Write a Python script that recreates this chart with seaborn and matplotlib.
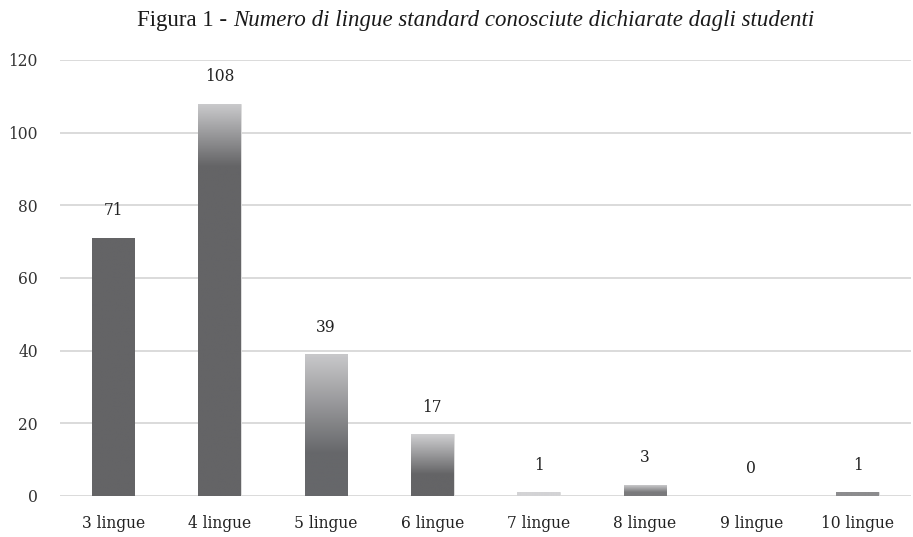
import numpy as np
import pandas as pd
import matplotlib
matplotlib.use("Agg")
import matplotlib.pyplot as plt
import seaborn as sns
from matplotlib.colors import LinearSegmentedColormap

categories = ["3 lingue", "4 lingue", "5 lingue", "6 lingue", "7 lingue", "8 lingue", "9 lingue", "10 lingue"]
values = [71, 108, 39, 17, 1, 3, 0, 1]
yticks = [0, 20, 40, 60, 80, 100, 120]

# styling: fraction of bar height that is solid dark, and top colour
grad_start = [1.0, 0.84, 0.30, 0.35, 0.0, 0.35, 1.0, 1.0]
top_color = ["#646466", "#cacacc", "#c8c8ca", "#cfcfd1", "#d3d3d5", "#c9c9cb", "#646466", "#8c8c8e"]
base_color = ["#646466", "#646466", "#66676a", "#646466", "#d3d3d5", "#7a7a7c", "#646466", "#8c8c8e"]

df = pd.DataFrame({"cat": categories, "val": values})

sns.set_theme(style="white")
plt.rcParams["font.family"] = ["DejaVu Serif"]

fig = plt.figure(figsize=(9.13, 5.37), dpi=100)
ax = fig.add_axes([0.0657, 0.0764, 0.932, 0.812])

sns.barplot(data=df, x="cat", y="val", color="#646466", width=0.4, ax=ax,
            edgecolor="#e6e6e6", linewidth=0.6, zorder=3)

ax.set_ylim(0, 120)
ax.set_yticks(yticks)
ax.set_xlim(-0.5, len(categories) - 0.5)
ax.grid(axis="y", color="#d4d4d4", linewidth=1.2, zorder=0)
ax.set_axisbelow(True)
for s in ax.spines.values():
    s.set_visible(False)
ax.set_xlabel("")
ax.set_ylabel("")
ax.tick_params(axis="y", length=0, pad=16, labelsize=11.2, labelcolor="#333333")
ax.tick_params(axis="x", length=0, pad=14, labelsize=11.2, labelcolor="#222222")

for i, patch in enumerate(ax.patches[:len(categories)]):
    x0, w = patch.get_x(), patch.get_width()
    h = patch.get_height()
    if h <= 0:
        continue
    n = 200
    t = np.linspace(0, 1, n)
    g0 = grad_start[i]
    frac = np.clip((t - g0) / max(1 - g0, 1e-6), 0, 1) if g0 < 1 else np.zeros(n)
    cmap = LinearSegmentedColormap.from_list("g%d" % i, [base_color[i], top_color[i]])
    img = frac.reshape(-1, 1)
    im = ax.imshow(img, extent=[x0, x0 + w, 0, h], origin="lower", aspect="auto",
                   cmap=cmap, vmin=0, vmax=1, zorder=3.5, interpolation="bilinear")
    im.set_clip_path(patch)

for i, v in enumerate(values):
    ax.annotate(str(v), xy=(i, v), xytext=(0, 19.5), textcoords="offset points",
                ha="center", va="center", fontsize=11.2, color="#222222")

# title: normal + italic parts
t1 = fig.text(0.5, 0.962, "Figura 1 - ", fontsize=16.5, family="Liberation Serif",
              ha="left", va="center", color="#1a1a1a")
t2 = fig.text(0.5, 0.962, "Numero di lingue standard conosciute dichiarate dagli studenti",
              fontsize=16.5, family="Liberation Serif", style="italic",
              ha="left", va="center", color="#1a1a1a")
fig.canvas.draw()
r = fig.canvas.get_renderer()
w1 = t1.get_window_extent(r).width
w2 = t2.get_window_extent(r).width
W = fig.bbox.width
cx = 476.0
start = cx - (w1 + w2) / 2
t1.set_x(start / W)
t2.set_x((start + w1) / W)

fig.savefig("out.png", dpi=100)
